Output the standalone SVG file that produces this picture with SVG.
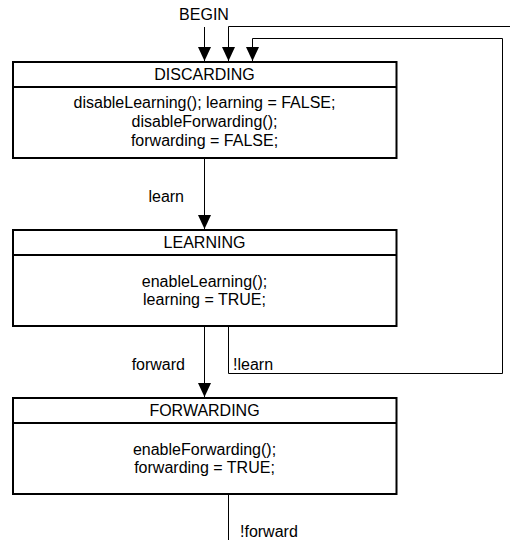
<svg xmlns="http://www.w3.org/2000/svg" width="510" height="540" viewBox="0 0 510 540">
<defs>
<marker id="arr" viewBox="0 0 14 13" markerWidth="14" markerHeight="13" refX="14" refY="6.5" orient="auto" markerUnits="userSpaceOnUse">
<path d="M0,0 L14,6.5 L0,13 z" fill="#000"/>
</marker>
<style>
text{font-family:"Liberation Sans",Arial,sans-serif;font-size:16px;fill:#000}
.c{text-anchor:middle}
.e{text-anchor:end}
.box{fill:#fff;stroke:#000;stroke-width:2}
.div{stroke:#000;stroke-width:2}
.ln{fill:none;stroke:#000;stroke-width:1}
</style>
</defs>
<rect width="510" height="540" fill="#fff"/>
<g id="connectors">
<path class="ln" d="M204.5,27 V61" marker-end="url(#arr)"/>
<path class="ln" d="M510,26.5 H228.5 V61" marker-end="url(#arr)"/>
<path class="ln" d="M228.5,327 V373.5 H502.5 V38.5 H252.5 V61" marker-end="url(#arr)"/>
<path class="ln" d="M204.5,159 V229" marker-end="url(#arr)"/>
<path class="ln" d="M204.5,327 V397" marker-end="url(#arr)"/>
<path class="ln" d="M228.5,495 V540"/>
<text x="204" y="20" class="c">BEGIN</text>
<text x="184" y="202" class="e">learn</text>
<text x="185" y="370" class="e">forward</text>
<text x="233" y="370">!learn</text>
<text x="240" y="537">!forward</text>
</g>
<g id="discarding">
<rect class="box" x="13" y="62" width="383.5" height="96"/>
<line class="div" x1="13" y1="87" x2="396.5" y2="87"/>
<text x="204.5" y="80" class="c">DISCARDING</text>
<text x="204.5" y="108" class="c">disableLearning(); learning = FALSE;</text>
<text x="204.5" y="127" class="c">disableForwarding();</text>
<text x="204.5" y="146" class="c">forwarding = FALSE;</text>
</g>
<g id="learning">
<rect class="box" x="13" y="230" width="383.5" height="96"/>
<line class="div" x1="13" y1="255" x2="396.5" y2="255"/>
<text x="204.5" y="248" class="c">LEARNING</text>
<text x="204.5" y="287" class="c">enableLearning();</text>
<text x="204.5" y="305" class="c">learning = TRUE;</text>
</g>
<g id="forwarding">
<rect class="box" x="13" y="398" width="383.5" height="96"/>
<line class="div" x1="13" y1="423" x2="396.5" y2="423"/>
<text x="204.5" y="416" class="c">FORWARDING</text>
<text x="204.5" y="455" class="c">enableForwarding();</text>
<text x="204.5" y="473" class="c">forwarding = TRUE;</text>
</g>
</svg>
